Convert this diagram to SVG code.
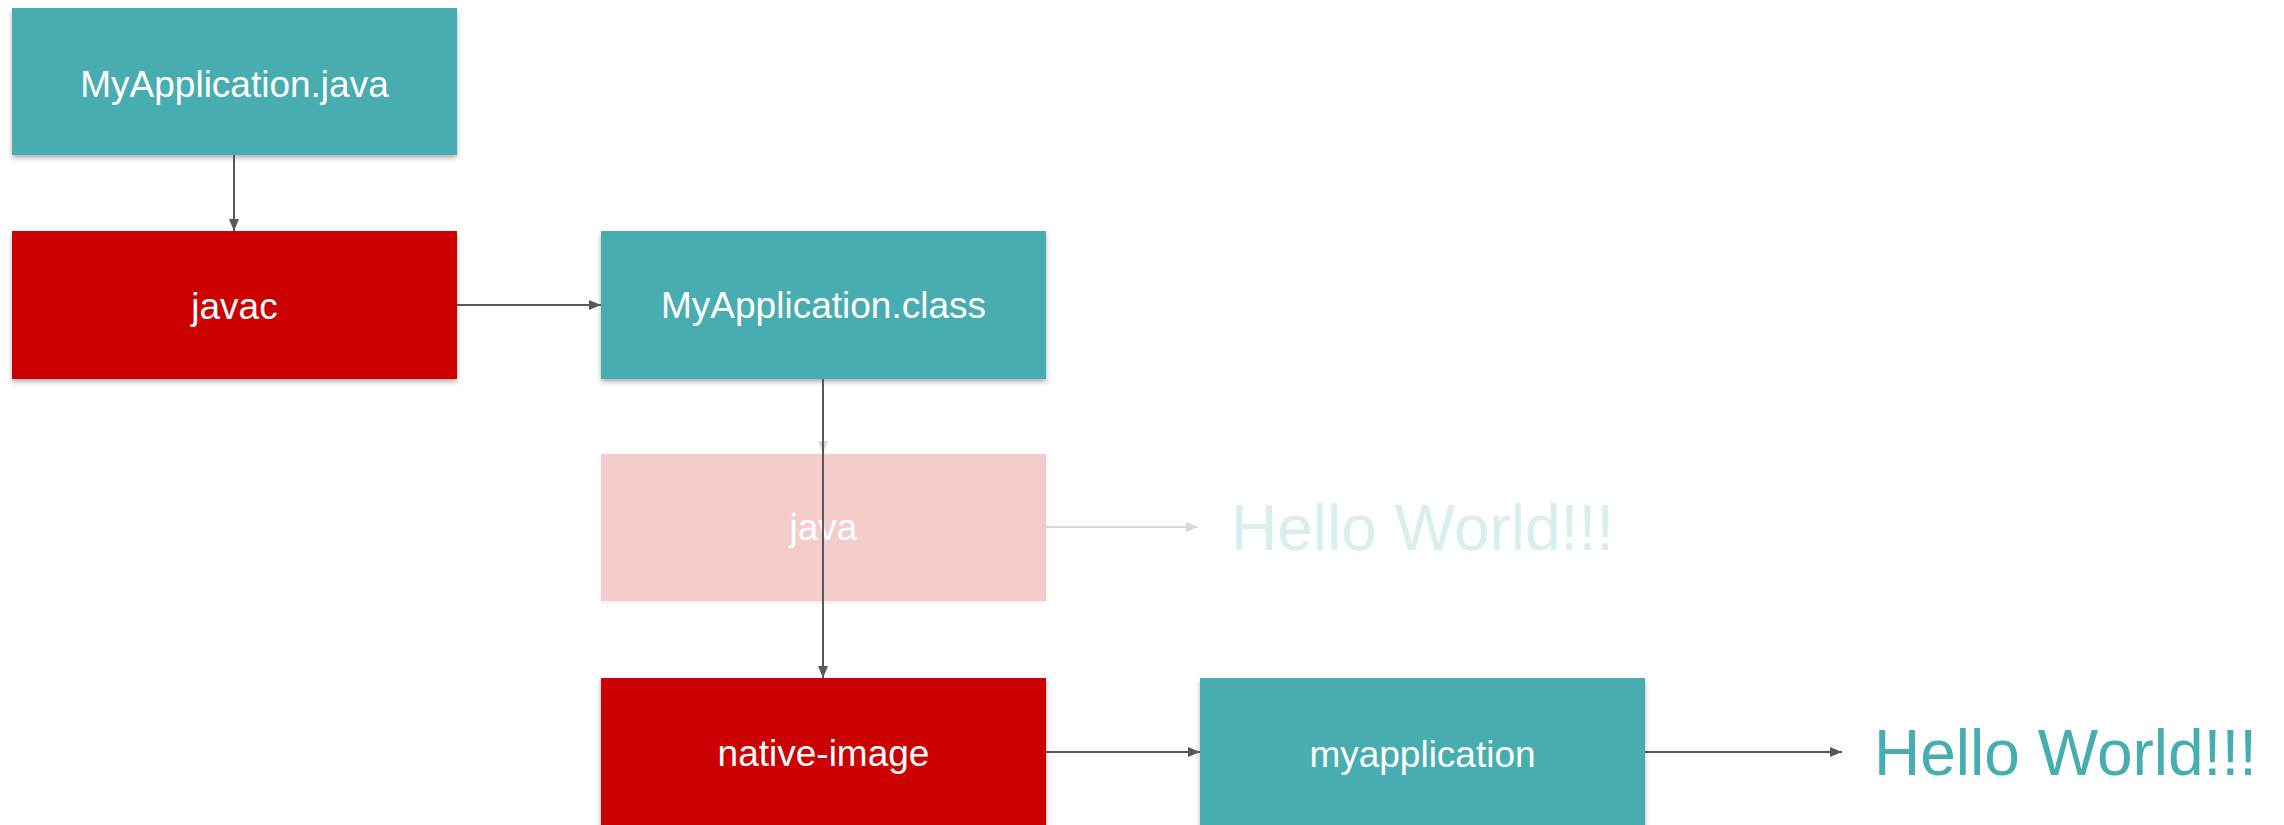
<svg xmlns="http://www.w3.org/2000/svg" width="2284" height="825" viewBox="0 0 2284 825">
<defs>
<filter id="sh" x="-5%" y="-5%" width="115%" height="120%">
<feDropShadow dx="0" dy="3" stdDeviation="2.5" flood-color="#000" flood-opacity="0.3"/>
</filter>
<filter id="shf" x="-5%" y="-5%" width="115%" height="120%">
<feDropShadow dx="0" dy="3" stdDeviation="2.5" flood-color="#000" flood-opacity="0.06"/>
</filter>
<marker id="ah" viewBox="0 0 12 10" refX="12" refY="5" markerWidth="12" markerHeight="10" markerUnits="userSpaceOnUse" orient="auto">
<path d="M0,0 L12,5 L0,10 z" fill="#595959"/>
</marker>
<marker id="ahf" viewBox="0 0 12 10" refX="12" refY="5" markerWidth="12" markerHeight="10" markerUnits="userSpaceOnUse" orient="auto">
<path d="M0,0 L12,5 L0,10 z" fill="#d9d9d9"/>
</marker>
</defs>
<style>
.lbl{font-family:"Liberation Sans",Arial,sans-serif;font-size:37px;fill:#ffffff;text-anchor:middle}
.teal{fill:#46adb1}
.red{fill:#cc0000}
.conn{stroke:#595959;stroke-width:2;fill:none}
.connf{stroke:#d9d9d9;stroke-width:2;fill:none}
.hello{font-family:"Liberation Sans",Arial,sans-serif;font-size:64px}
</style>
<rect width="2284" height="825" fill="#ffffff"/>

<g id="connectors-faded">
<line class="connf" x1="823" y1="379" x2="823" y2="453" marker-end="url(#ahf)"/>
<line class="connf" x1="1046" y1="527" x2="1198" y2="527" marker-end="url(#ahf)"/>
</g>

<g id="node-myapplication-java">
<rect class="teal" x="12" y="8" width="445" height="147" filter="url(#sh)"/>
<text class="lbl" x="234.5" y="97">MyApplication.java</text>
</g>
<g id="node-javac">
<rect class="red" x="12" y="231" width="445" height="148" filter="url(#sh)"/>
<text class="lbl" x="234.5" y="319">javac</text>
</g>
<g id="node-myapplication-class">
<rect class="teal" x="601" y="231" width="445" height="148" filter="url(#sh)"/>
<text class="lbl" x="823.5" y="318">MyApplication.class</text>
</g>
<g id="node-java">
<rect x="601" y="454" width="445" height="147" fill="#f4cccc" filter="url(#shf)"/>
<text class="lbl" x="823.5" y="540">java</text>
</g>
<g id="node-native-image">
<rect class="red" x="601" y="678" width="445" height="150" filter="url(#sh)"/>
<text class="lbl" x="823.5" y="766">native-image</text>
</g>
<g id="node-myapplication">
<rect class="teal" x="1200" y="678" width="445" height="150" filter="url(#sh)"/>
<text class="lbl" x="1422.5" y="767">myapplication</text>
</g>
<g id="node-hello-faded">
<text class="hello" x="1231" y="550" fill="#d9eeef">Hello World!!!</text>
</g>
<g id="node-hello">
<text class="hello" x="1874" y="775" fill="#46adb1">Hello World!!!</text>
</g>

<g id="connectors">
<line class="conn" x1="234" y1="155" x2="234" y2="231" marker-end="url(#ah)"/>
<line class="conn" x1="457" y1="305" x2="601" y2="305" marker-end="url(#ah)"/>
<line class="conn" x1="823" y1="379" x2="823" y2="678" marker-end="url(#ah)"/>
<line class="conn" x1="1046" y1="752" x2="1200" y2="752" marker-end="url(#ah)"/>
<line class="conn" x1="1645" y1="752" x2="1842" y2="752" marker-end="url(#ah)"/>
</g>
</svg>
